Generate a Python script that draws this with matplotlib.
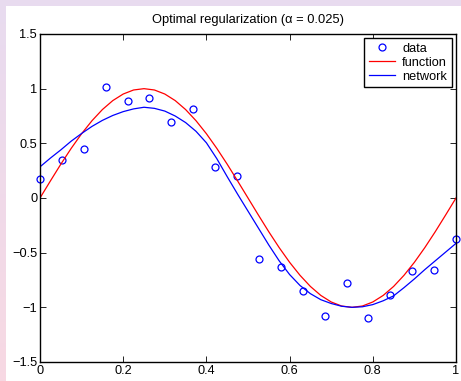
import numpy as np
import matplotlib
matplotlib.use("Agg")
import matplotlib.pyplot as plt
from matplotlib.patches import Rectangle

plt.rcParams['font.family'] = ['Liberation Sans', 'DejaVu Sans']

# noisy samples
data_x = [0.0, 0.0526, 0.1053, 0.1579, 0.2105, 0.2632, 0.3158, 0.3684, 0.4211, 0.4737,
          0.5263, 0.5789, 0.6316, 0.6842, 0.7368, 0.7895, 0.8421, 0.8947, 0.9474, 1.0]
data_y = [0.171, 0.345, 0.445, 1.012, 0.884, 0.912, 0.695, 0.814, 0.284, 0.198,
          -0.558, -0.628, -0.848, -1.082, -0.777, -1.095, -0.890, -0.671, -0.662, -0.375]

# curves, x step 0.025
curve_x = [i / 40 for i in range(41)]
function_y = [0.0, 0.156, 0.309, 0.454, 0.588, 0.707, 0.809, 0.891, 0.951, 0.988,
              1.0, 0.988, 0.951, 0.891, 0.809, 0.707, 0.588, 0.454, 0.309, 0.156,
              0.0, -0.156, -0.309, -0.454, -0.588, -0.707, -0.809, -0.891, -0.951, -0.988,
              -1.0, -0.988, -0.951, -0.891, -0.809, -0.707, -0.588, -0.454, -0.309, -0.156, 0.0]
network_y = [0.285, 0.365, 0.44, 0.52, 0.59, 0.655, 0.71, 0.755, 0.79, 0.815,
             0.83, 0.82, 0.795, 0.75, 0.69, 0.61, 0.505, 0.36, 0.195, 0.035,
             -0.12, -0.275, -0.43, -0.575, -0.70, -0.80, -0.875, -0.93, -0.965, -0.99,
             -1.0, -0.995, -0.975, -0.94, -0.895, -0.82, -0.74, -0.655, -0.575, -0.495, -0.415]

xticks = [0, 0.2, 0.4, 0.6, 0.8, 1]
yticks = [-1.5, -1, -0.5, 0, 0.5, 1, 1.5]

W, H = 461, 381
fig = plt.figure(figsize=(W / 100, H / 100), dpi=100)

# slide-like background: lavender top strip, gradient left strip
bg = fig.add_axes([0, 0, 1, 1], zorder=-10)
grad = np.linspace(0, 1, 256).reshape(-1, 1)
top_c = np.array([0.91, 0.86, 0.94])
bot_c = np.array([0.97, 0.85, 0.89])
img = top_c + grad * (bot_c - top_c)
bg.imshow(img.reshape(256, 1, 3), aspect='auto', extent=[0, 1, 0, 1], origin='upper')
bg.add_patch(Rectangle((6 / W, 0), 1, (H - 6) / H, transform=bg.transAxes,
                       facecolor='white', edgecolor='none'))
bg.set_xlim(0, 1)
bg.set_ylim(0, 1)
bg.axis('off')

ax = fig.add_axes([40 / W, 19 / H, 416 / W, 328 / H])
ax.plot(data_x, data_y, 'o', color='blue', markerfacecolor='none',
        markersize=5, markeredgewidth=0.9, label='data', clip_on=False)
ax.plot(curve_x, function_y, color='red', linewidth=0.9, label='function')
ax.plot(curve_x, network_y, color='blue', linewidth=0.9, label='network')

ax.set_xlim(0, 1)
ax.set_ylim(-1.5, 1.5)
ax.set_xticks(xticks)
ax.set_xticklabels(['0', '0.2', '0.4', '0.6', '0.8', '1'])
ax.set_yticks(yticks)
ax.set_yticklabels(['\u22121.5', '\u22121', '\u22120.5', '0', '0.5', '1', '1.5'])
ax.tick_params(direction='in', length=4, width=0.6, top=True, right=True,
               labelsize=9.2, pad=2)
for s in ax.spines.values():
    s.set_linewidth(1.0)

ax.set_title('Optimal regularization (\u03b1 = 0.025)', fontsize=9.3, pad=8)

leg = ax.legend(loc='upper right', fontsize=9.2, fancybox=False, framealpha=1,
                edgecolor='black', borderpad=0.35, labelspacing=0.15,
                handlelength=2.0, handletextpad=0.6, borderaxespad=0.35)
leg.get_frame().set_linewidth(1.0)

fig.savefig('out.png', dpi=100)
